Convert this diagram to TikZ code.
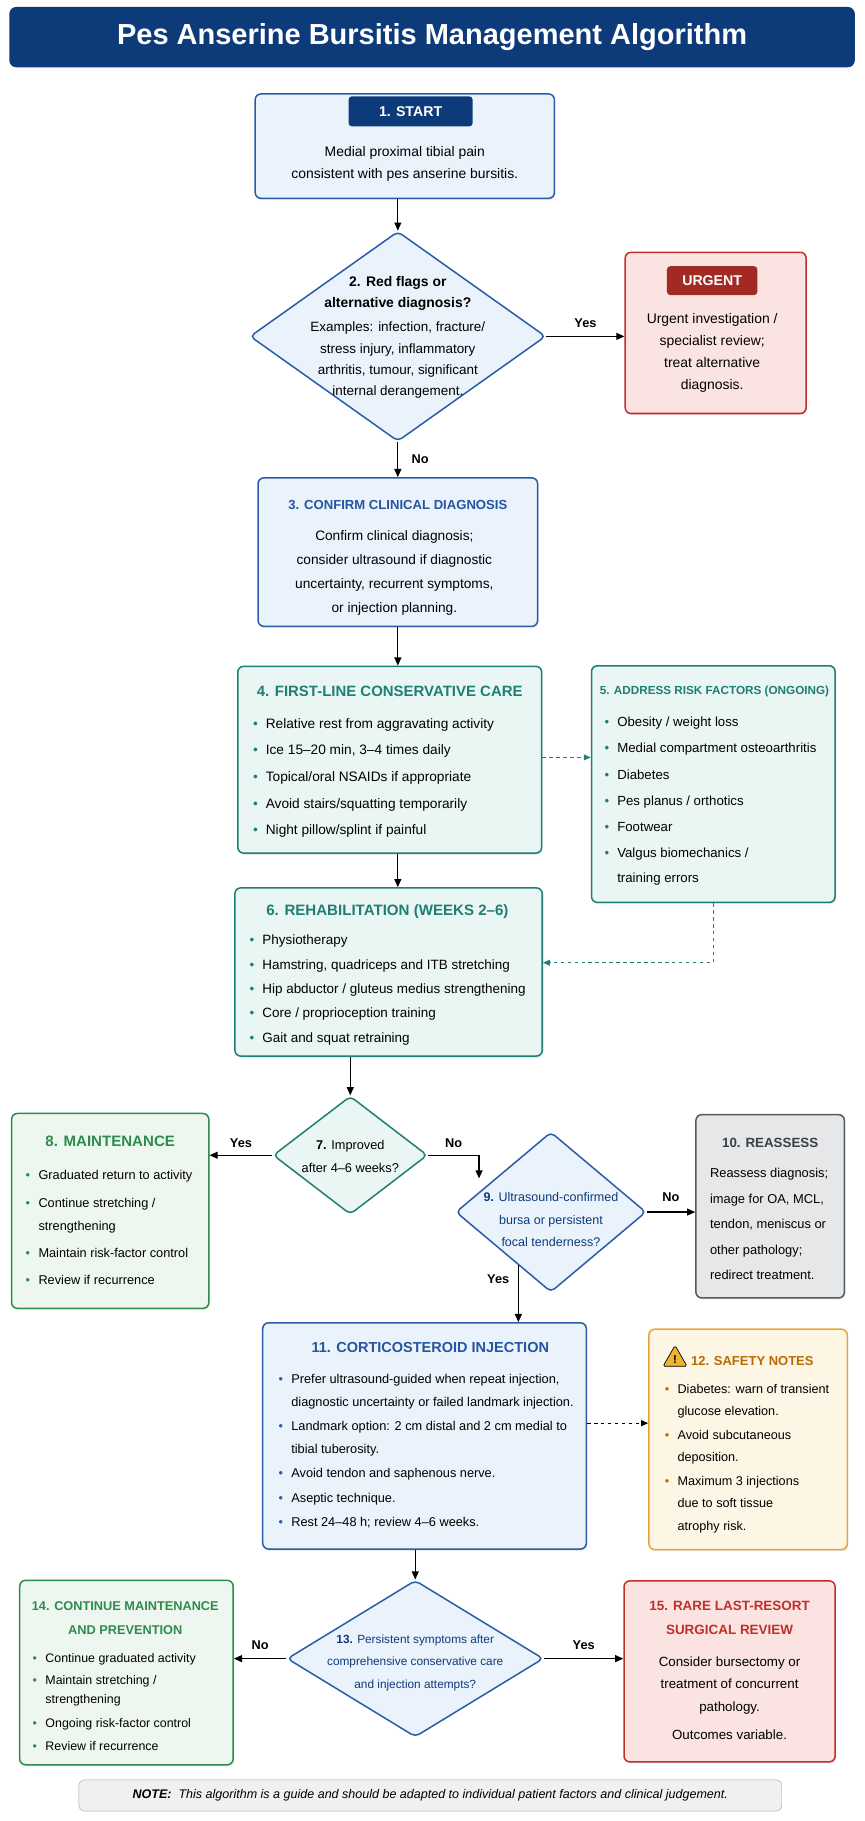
\documentclass[tikz,border=0pt]{standalone}
\usepackage{fontspec}
\setmainfont{Liberation Sans}
\usetikzlibrary{shapes.geometric, positioning, arrows.meta, shadows}

\definecolor{navy}{HTML}{0D3B7A}
\definecolor{bblue}{HTML}{2A5DA8}
\definecolor{fblue}{HTML}{EAF2FB}
\definecolor{bteal}{HTML}{1E7F74}
\definecolor{fteal}{HTML}{EAF6F4}
\definecolor{bgreen}{HTML}{2E8B4E}
\definecolor{fgreen}{HTML}{EEF7EF}
\definecolor{bred}{HTML}{C0302B}
\definecolor{fred}{HTML}{FBE3E2}
\definecolor{bgray}{HTML}{555A60}
\definecolor{fgray}{HTML}{E6E7E9}
\definecolor{borange}{HTML}{E8A33A}
\definecolor{forange}{HTML}{FDF6E4}
\definecolor{torange}{HTML}{B86A00}

\newcommand{\bul}[2]{\makebox[11pt][l]{\color{#1}\textbullet}#2}
\newcommand{\cont}{\hspace*{11pt}}
\newcommand{\fs}[2]{\fontsize{#1}{#2}\selectfont}

\tikzset{
  box/.style={draw=#1, line width=1.3pt, rounded corners=5pt, drop shadow={opacity=0.15, shadow xshift=1pt, shadow yshift=-1.5pt}},
  dia/.style={diamond, draw=#1, line width=1.3pt, rounded corners=4pt, inner sep=0pt},
  tab/.style={fill=#1, rounded corners=3pt, text=white, font=\bfseries\fs{12.2}{14}},
  txt/.style={align=center, anchor=north, inner sep=0pt, yshift=-4pt},
  lst/.style={align=left, anchor=north west, inner sep=0pt, yshift=-4pt},
  ttl/.style={text=#1, align=center},
  arr/.style={-{Triangle[length=7pt,width=6pt]}, line width=1.1pt},
  dsh/.style={dashed, -{Triangle[length=6pt,width=5pt]}, line width=1pt},
  lbl/.style={font=\bfseries\fs{11}{13}},
}

\begin{document}
\begin{tikzpicture}[x=1pt, y=-1pt]
\useasboundingbox (0,0) rectangle (745,1570);

% title
\node (head)[fill=navy, rounded corners=6pt, minimum width=729pt, minimum height=52pt, text=white, font=\bfseries\fs{25}{28}] at (372.5,32) {Pes Anserine Bursitis Management Algorithm};

% 1. start
\node (b1)[box=bblue, fill=fblue, minimum width=258pt, minimum height=90pt] at (349,126) {};
\node (t1)[tab=navy, minimum width=107pt, minimum height=26pt] at (354,96) {1. START};
\node[txt, font=\fs{12}{19}] at (349,122) {Medial proximal tibial pain\\consistent with pes anserine bursitis.};

% 2. red flags
\node (d2)[dia=bblue, fill=fblue, minimum width=255pt, minimum height=181pt] at (343,290) {};
\node[txt, font=\fs{11.6}{18.5}] at (343,234) {\textbf{\fs{12}{19}2. Red flags or}\\\textbf{\fs{12}{19}alternative diagnosis?}\\[2pt]Examples: infection, fracture/\\stress injury, inflammatory\\arthritis, tumour, significant\\internal derangement.};

% urgent
\node (urg)[box=bred, fill=fred, minimum width=156pt, minimum height=139pt] at (617,287) {};
\node (tu)[tab=bred!85!black, minimum width=78pt, minimum height=25pt] at (614,242) {URGENT};
\node[txt, font=\fs{12}{19}] at (614,266) {Urgent investigation /\\specialist review;\\treat alternative\\diagnosis.};

% 3. confirm
\node (b3)[box=bblue, fill=fblue, minimum width=241pt, minimum height=128pt] at (343,476) {};
\node[ttl=bblue!80!navy, font=\bfseries\fs{11.3}{13}] at (343,435) {3. CONFIRM CLINICAL DIAGNOSIS};
\node[txt, font=\fs{11.8}{20.7}] at (340,453) {Confirm clinical diagnosis;\\consider ultrasound if diagnostic\\uncertainty, recurrent symptoms,\\or injection planning.};

% 4. first-line
\node (b4)[box=bteal, fill=fteal, minimum width=262pt, minimum height=161pt] at (336,655) {};
\node[ttl=bteal, font=\bfseries\fs{12.9}{15}] at (336,596) {4. FIRST-LINE CONSERVATIVE CARE};
\node[lst, font=\fs{11.8}{14}] at (218,615) {\bul{bteal}{Relative rest from aggravating activity}\\[9pt]\bul{bteal}{Ice 15--20 min, 3--4 times daily}\\[9pt]\bul{bteal}{Topical/oral NSAIDs if appropriate}\\[9pt]\bul{bteal}{Avoid stairs/squatting temporarily}\\[9pt]\bul{bteal}{Night pillow/splint if painful}};

% 5. risk factors
\node (b5)[box=bteal, fill=fteal, minimum width=210pt, minimum height=204pt] at (615,676) {};
\node[ttl=bteal, font=\bfseries\fs{10.1}{12}] at (616,596) {5. ADDRESS RISK FACTORS (ONGOING)};
\node[lst, font=\fs{11.4}{15}] at (521,614) {\bul{bteal}{Obesity / weight loss}\\[7.6pt]\bul{bteal}{Medial compartment osteoarthritis}\\[7.6pt]\bul{bteal}{Diabetes}\\[7.6pt]\bul{bteal}{Pes planus / orthotics}\\[7.6pt]\bul{bteal}{Footwear}\\[7.6pt]\bul{bteal}{Valgus biomechanics /}\\[6pt]\cont training errors};

% 6. rehab
\node (b6)[box=bteal, fill=fteal, minimum width=265pt, minimum height=145pt] at (335,838) {};
\node[ttl=bteal, font=\bfseries\fs{13}{15}] at (334,786) {6. REHABILITATION (WEEKS 2--6)};
\node[lst, font=\fs{11.6}{14}] at (215,802) {\bul{bteal}{Physiotherapy}\\[7pt]\bul{bteal}{Hamstring, quadriceps and ITB stretching}\\[7pt]\bul{bteal}{Hip abductor / gluteus medius strengthening}\\[7pt]\bul{bteal}{Core / proprioception training}\\[7pt]\bul{bteal}{Gait and squat retraining}};

% 7. improved
\node (d7)[dia=bteal, fill=fteal, minimum width=133pt, minimum height=102pt] at (302,996) {};
\node[txt, font=\fs{11}{20}] at (302,979) {\textbf{7.} Improved\\after 4--6 weeks?};

% 8. maintenance
\node (b8)[box=bgreen, fill=fgreen, minimum width=170pt, minimum height=168pt] at (95,1044) {};
\node[ttl=bgreen, font=\bfseries\fs{13}{15}] at (95,984) {8. MAINTENANCE};
\node[lst, font=\fs{11}{13.5}] at (22,1005) {\bul{bgreen}{Graduated return to activity}\\[10pt]\bul{bgreen}{Continue stretching /}\\[6.5pt]\cont strengthening\\[10pt]\bul{bgreen}{Maintain risk-factor control}\\[10pt]\bul{bgreen}{Review if recurrence}};

% 9. ultrasound
\node (d9)[dia=bblue, fill=fblue, minimum width=164pt, minimum height=138pt] at (475,1045) {};
\node[txt, font=\fs{10.8}{19.5}, text=navy] at (475,1024) {\textbf{9.} Ultrasound-confirmed\\bursa or persistent\\focal tenderness?};

% 10. reassess
\node (b10)[box=bgray, fill=fgray, minimum width=128pt, minimum height=158pt] at (664,1040) {};
\node[ttl=bgray!70!black, font=\bfseries\fs{11.5}{13}] at (664,985) {10. REASSESS};
\node[lst, font=\fs{11.1}{22}] at (612,1003) {Reassess diagnosis;\\image for OA, MCL,\\tendon, meniscus or\\other pathology;\\redirect treatment.};

% 11. injection
\node (b11)[box=bblue, fill=fblue, minimum width=279pt, minimum height=195pt] at (366,1238) {};
\node[ttl=bblue!80!navy, font=\bfseries\fs{12.5}{15}] at (371,1162) {11. CORTICOSTEROID INJECTION};
\node[lst, font=\fs{11}{13.5}] at (240,1181) {\bul{bblue}{Prefer ultrasound-guided when repeat injection,}\\[6pt]\cont diagnostic uncertainty or failed landmark injection.\\[7.5pt]\bul{bblue}{Landmark option: 2 cm distal and 2 cm medial to}\\[6pt]\cont tibial tuberosity.\\[7.5pt]\bul{bblue}{Avoid tendon and saphenous nerve.}\\[7.5pt]\bul{bblue}{Aseptic technique.}\\[7.5pt]\bul{bblue}{Rest 24--48 h; review 4--6 weeks.}};

% 12. safety
\node (b12)[box=borange, fill=forange, minimum width=171pt, minimum height=190pt] at (645,1241) {};
\node (warn)[regular polygon, regular polygon sides=3, fill=borange!80!yellow, draw=black, line width=0.6pt, inner sep=0pt, minimum size=24pt, rounded corners=1.5pt, font=\bfseries\fs{10}{10}] at (582,1172) {!};
\node[ttl=torange, font=\bfseries\fs{11.2}{13}, anchor=west] at ([xshift=3pt,yshift=-1pt]warn.east) {12. SAFETY NOTES};
\node[lst, font=\fs{10.9}{13}] at (573,1189) {\bul{torange}{Diabetes: warn of transient}\\[6pt]\cont glucose elevation.\\[8pt]\bul{torange}{Avoid subcutaneous}\\[6pt]\cont deposition.\\[8pt]\bul{torange}{Maximum 3 injections}\\[6pt]\cont due to soft tissue\\[6pt]\cont atrophy risk.};

% 13. persistent
\node (d13)[dia=bblue, fill=fblue, minimum width=221pt, minimum height=135pt] at (358,1430) {};
\node[txt, font=\fs{10.2}{19.5}, text=navy] at (358,1405) {\textbf{13.} Persistent symptoms after\\comprehensive conservative care\\and injection attempts?};

% 14. continue
\node (b14)[box=bgreen, fill=fgreen, minimum width=184pt, minimum height=159pt] at (109,1442) {};
\node[ttl=bgreen, font=\bfseries\fs{11}{21}] at (108,1395) {14. CONTINUE MAINTENANCE\\AND PREVENTION};
\node[lst, font=\fs{10.7}{12.5}] at (28,1421) {\bul{bgreen}{Continue graduated activity}\\[7pt]\bul{bgreen}{Maintain stretching /}\\[3.5pt]\cont strengthening\\[8pt]\bul{bgreen}{Ongoing risk-factor control}\\[8pt]\bul{bgreen}{Review if recurrence}};

% 15. surgical
\node (b15)[box=bred, fill=fred, minimum width=182pt, minimum height=156pt] at (629,1441) {};
\node[ttl=bred, font=\bfseries\fs{11.6}{21}] at (629,1395) {15. RARE LAST-RESORT\\SURGICAL REVIEW};
\node[txt, font=\fs{11.5}{19.5}] at (629,1424) {Consider bursectomy or\\treatment of concurrent\\pathology.\\[4.5pt]Outcomes variable.};

% note
\node (note)[draw=gray!70, fill=gray!12, rounded corners=5pt, minimum width=606pt, minimum height=27pt, font=\itshape\fs{10.8}{12}] at (371,1548) {\textbf{NOTE:}\ \ This algorithm is a guide and should be adapted to individual patient factors and clinical judgement.};

% connectors
\draw[arr] (d2.north |- b1.south) -- (d2.north);
\draw[arr] (d2.east) -- (urg.west |- d2.east) node[lbl, midway, above=4pt] {Yes};
\draw[arr] (d2.south) -- (b3.north) node[lbl, midway, right=8pt] {No};
\draw[arr] (b3.south) -- (b3.south |- b4.north);
\draw[dsh, draw=bteal] (b4.east |- 0,653) -- (b5.west |- 0,653);
\draw[arr] (b3.south |- b4.south) -- (b3.south |- b6.north);
\draw[dsh, draw=bteal] (b5.south) |- (b6.east |- 0,830);
\draw[arr] (b6.south -| d7.north) -- (d7.north);
\draw[arr] (d7.west) -- (b8.east |- d7.west) node[lbl, midway, above=3pt] {Yes};
\coordinate (k79) at (413,996);
\draw[arr] (d7.east) -- (k79) node[lbl, midway, above=3pt] {No} -- (413,1016);
\draw[arr] (d9.east) -- (b10.west |- d9.east) node[lbl, midway, above=5pt] {No};
\path (d9.south west) -- (d9.south) coordinate[pos=0.32] (d9y);
\draw[arr] (d9y) -- (d9y |- b11.north) node[lbl, pos=0.25, left=4pt] {Yes};
\draw[dsh] (b11.east |- 0,1227) -- (b12.west |- 0,1227);
\draw[arr] (b11.south -| d13.north) -- (d13.north);
\draw[arr] (d13.west) -- (b14.east |- d13.west) node[lbl, midway, above=4pt] {No};
\draw[arr] (d13.east) -- (b15.west |- d13.east) node[lbl, midway, above=4pt] {Yes};
\end{tikzpicture}
\end{document}
